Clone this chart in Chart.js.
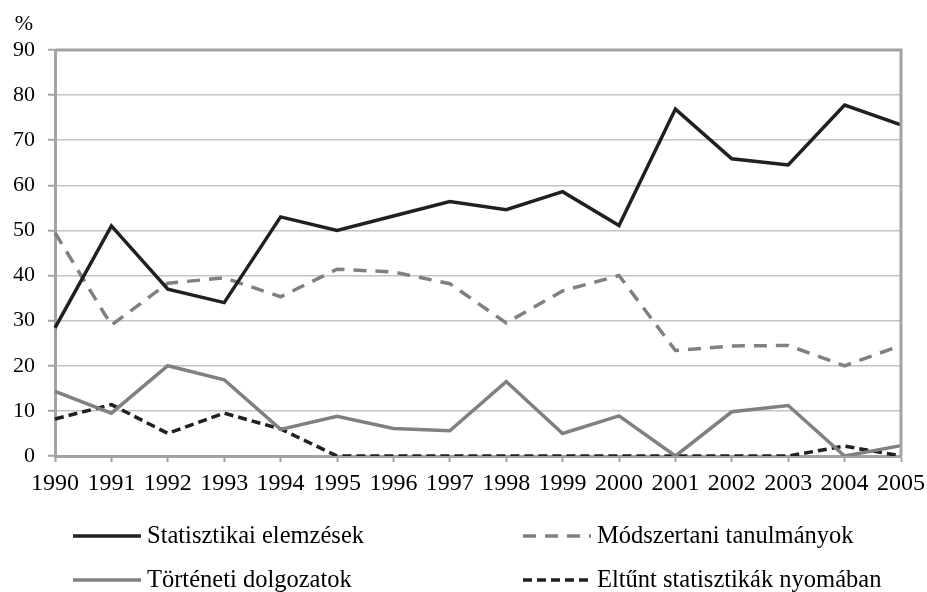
<!DOCTYPE html>
<html>
<head>
<meta charset="utf-8">
<script src="https://cdn.jsdelivr.net/npm/chart.js@4/dist/chart.umd.min.js"></script>
<style>
html,body{margin:0;padding:0;background:#fff;}
#wrap{width:927px;height:592px;position:relative;}
</style>
</head>
<body>
<div id="wrap"><canvas id="c" width="927" height="592"></canvas></div>
<script>
const years = ['1990','1991','1992','1993','1994','1995','1996','1997','1998','1999','2000','2001','2002','2003','2004','2005'];
const statisztikai = [28.4, 51, 37, 34, 53, 50, 53.2, 56.4, 54.6, 58.6, 51.1, 76.9, 65.9, 64.5, 77.8, 73.4];
const modszertani = [49.5, 29, 38.3, 39.5, 35.3, 41.4, 40.8, 38.2, 29.5, 36.6, 40, 23.4, 24.4, 24.5, 20, 24.5];
const torteneti = [14.3, 9.5, 20, 16.9, 5.9, 8.8, 6.1, 5.6, 16.5, 5, 8.9, 0, 9.8, 11.2, 0, 2.3];
const eltunt = [8.2, 11.4, 5, 9.5, 6, 0, 0, 0, 0, 0, 0, 0, 0, 0, 2.2, 0];
const yTicks = [0, 10, 20, 30, 40, 50, 60, 70, 80, 90];
const unitLabel = '%';
const seriesNames = ['Statisztikai elemzések', 'Módszertani tanulmányok', 'Történeti dolgozatok', 'Eltűnt statisztikák nyomában'];

const BLACK = '#231f20';
const GRAY = '#808080';
const AXIS = '#a3a3a3';
const GRID = '#c4c4c4';
const FONT = '"Liberation Serif", "Times New Roman", serif';

const frame = {
  id: 'frame',
  afterDraw(chart) {
    const ctx = chart.ctx, a = chart.chartArea;
    ctx.save();
    ctx.strokeStyle = AXIS;
    ctx.lineWidth = 3;
    ctx.beginPath();
    ctx.moveTo(a.left, a.top);
    ctx.lineTo(a.right, a.top);
    ctx.lineTo(a.right, a.bottom);
    ctx.stroke();
    ctx.fillStyle = '#000';
    ctx.font = '22px ' + FONT;
    ctx.textAlign = 'center';
    ctx.textBaseline = 'middle';
    ctx.fillText(unitLabel, 24, 24);
    // legend
    const ds = chart.data.datasets;
    const cols = [73, 523];
    const rows = [a.bottom + 80, a.bottom + 124];
    ds.forEach((d, i) => {
      const x = cols[i % 2], y = rows[Math.floor(i / 2)];
      ctx.save();
      ctx.strokeStyle = d.borderColor;
      ctx.lineWidth = d.borderWidth;
      ctx.setLineDash(d.borderDash || []);
      ctx.beginPath();
      ctx.moveTo(x, y);
      ctx.lineTo(x + 68, y);
      ctx.stroke();
      ctx.restore();
      ctx.fillStyle = '#000';
      ctx.font = '24.5px ' + FONT;
      ctx.textAlign = 'left';
      ctx.textBaseline = 'middle';
      ctx.fillText(d.label, x + 74, y + 1);
    });
    ctx.restore();
  }
};

new Chart(document.getElementById('c'), {
  type: 'line',
  data: {
    labels: years,
    datasets: [
      { label: seriesNames[0], data: statisztikai, borderColor: BLACK, borderWidth: 3.5 },
      { label: seriesNames[1], data: modszertani, borderColor: GRAY, borderWidth: 3.5, borderDash: [13, 9] },
      { label: seriesNames[2], data: torteneti, borderColor: GRAY, borderWidth: 3.5 },
      { label: seriesNames[3], data: eltunt, borderColor: BLACK, borderWidth: 3.5, borderDash: [9, 5] }
    ]
  },
  options: {
    responsive: false,
    animation: false,
    devicePixelRatio: 1,
    layout: { padding: { left: 0, right: 26, top: 50, bottom: 96 } },
    elements: { point: { radius: 0, hoverRadius: 0 }, line: { tension: 0, borderCapStyle: 'butt', fill: false } },
    plugins: { legend: { display: false }, tooltip: { enabled: false } },
    scales: {
      x: {
        type: 'category',
        offset: false,
        afterFit(s) { s.height = 40; s.paddingLeft = 0; s.paddingRight = 0; },
        grid: { drawOnChartArea: false, drawTicks: true, tickLength: 6, tickColor: AXIS, tickWidth: 2 },
        border: { color: AXIS, width: 3 },
        ticks: { color: '#000', font: { family: FONT, size: 24 }, padding: 7, maxRotation: 0, autoSkip: false }
      },
      y: {
        min: 0, max: 90,
        afterFit(s) { s.width = 55; s.paddingTop = 0; s.paddingBottom = 0; },
        afterBuildTicks(s) { s.ticks = yTicks.map(v => ({ value: v })); },
        grid: { color: GRID, lineWidth: 1.5, tickLength: 7, tickColor: AXIS, tickWidth: 2 },
        border: { color: AXIS, width: 3 },
        ticks: { color: '#000', font: { family: FONT, size: 22 }, padding: 13 }
      }
    }
  },
  plugins: [frame]
});
</script>
</body>
</html>
